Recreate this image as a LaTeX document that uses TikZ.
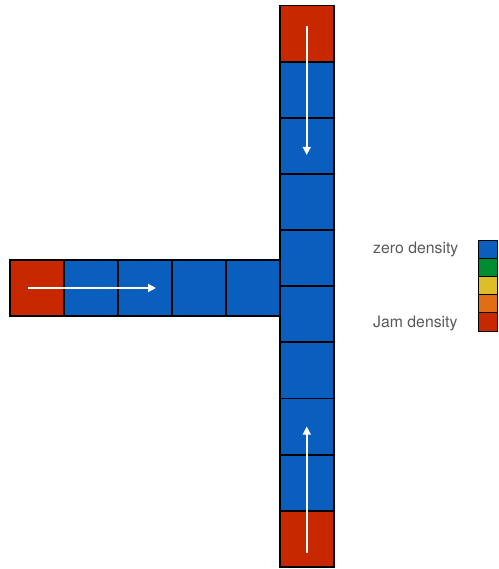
\documentclass[tikz,border=0pt]{standalone}
\usepackage{fontspec}
\setmainfont{TeX Gyre Heros}
\usetikzlibrary{arrows.meta}
\definecolor{jamred}{RGB}{200,40,0}
\definecolor{freeblue}{RGB}{10,95,190}
\definecolor{midgreen}{RGB}{0,140,50}
\definecolor{midyellow}{RGB}{222,190,40}
\definecolor{midorange}{RGB}{225,110,20}
\begin{document}
\begin{tikzpicture}[x=1pt, y=1pt,
  cell/.style={draw=black, line width=1.8pt, fill=freeblue, inner sep=0pt,
               minimum width=54pt, minimum height=56.15pt},
  jam/.style={cell, fill=jamred},
  key/.style={draw=black, line width=0.8pt, inner sep=0pt,
              minimum width=19pt, minimum height=18.2pt},
  flow/.style={draw=white, line width=1.5pt, -{Triangle[length=8pt,width=8pt]}},
  lbl/.style={font=\fontsize{15.8}{18}\selectfont, text=black!65, anchor=west, inner sep=0pt},
]
\useasboundingbox (0,0) rectangle (498,569);
% --- Side road (row) ---
\node[jam]  (h1) at (37,  281) {};
\node[cell] (h2) at (91,  281) {};
\node[cell] (h3) at (145, 281) {};
\node[cell] (h4) at (199, 281) {};
\node[cell] (h5) at (253, 281) {};
% --- Main road (column) ---
\node[jam]  (v1)  at (306.75, 535.4) {};
\node[cell] (v2)  at (306.75, 479.3) {};
\node[cell] (v3)  at (306.75, 423.1) {};
\node[cell] (v4)  at (306.75, 367.0) {};
\node[cell] (v5)  at (306.75, 310.8) {};
\node[cell] (v6)  at (306.75, 254.7) {};
\node[cell] (v7)  at (306.75, 198.5) {};
\node[cell] (v8)  at (306.75, 142.4) {};
\node[cell] (v9)  at (306.75, 86.2) {};
\node[jam]  (v10) at (306.75, 30.1) {};
% --- Flow arrows ---
\draw[flow] ([yshift=8pt]v1.center) -- ([yshift=-9pt]v3.center);
\draw[flow] ([yshift=-14pt]v10.center) -- (v8.center);
\draw[flow] ([xshift=-9pt]h1.center) -- ([xshift=11pt]h3.center);
% --- Density scale ---
\node[key, fill=freeblue]  (k1) at (488, 319.9) {};
\node[key, fill=midgreen]  (k2) at (488, 301.7) {};
\node[key, fill=midyellow] (k3) at (488, 283.5) {};
\node[key, fill=midorange] (k4) at (488, 265.3) {};
\node[key, fill=jamred]    (k5) at (488, 247.1) {};
\node[lbl] (zero) at (373, 319.5) {zero density};
\node[lbl] (full) at (373, 245.5) {Jam density};
\end{tikzpicture}
\end{document}
